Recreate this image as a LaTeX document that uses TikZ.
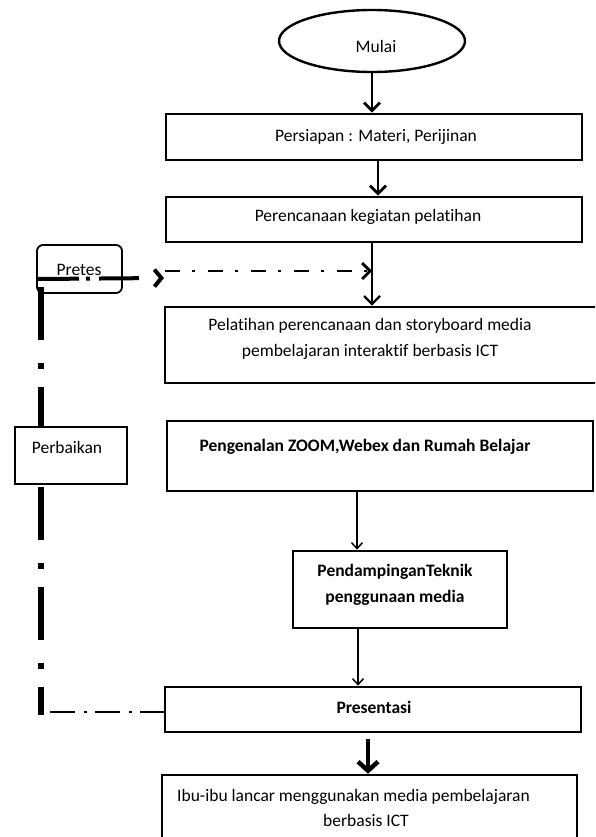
\documentclass[tikz,border=0pt]{standalone}
\usepackage{fontspec}
\setmainfont{Carlito}[RawFeature={-liga;-clig;-calt;-dlig}]
\usetikzlibrary{arrows.meta,shapes.geometric}
\tikzset{
  box/.style={draw, line width=2.6pt, fill=white, inner sep=0pt},
  txt/.style={font=\fontsize{17.5}{21}\selectfont, align=center, inner sep=0pt},
  btxt/.style={font=\fontsize{17.5}{21}\selectfont\bfseries, align=center, inner sep=0pt},
  barb/.style={-{Straight Barb[length=8pt,width=16pt]}},
}
\begin{document}
\begin{tikzpicture}[x=1pt,y=-1pt]
\useasboundingbox (0,0) rectangle (595,837);
\clip (0,0) rectangle (595,837);
% feedback loop (drawn first, under boxes)
\draw[line width=2.6pt, dash pattern=on 25pt off 8pt on 3pt off 9pt] (165,712) -- (41,712);
\draw[line width=5.5pt, dash pattern=on 53pt off 18pt on 6pt off 23pt, dash phase=25pt] (41,715) -- (41,276);
\coordinate (chev) at (164,278);
\draw[line width=4pt, dash pattern=on 41pt off 7pt on 4pt off 9pt on 40pt off 40pt, -{Straight Barb[length=7pt,width=17pt]}] (38,279) -- (chev);
% nodes
\node[draw, ellipse, line width=2.4pt, minimum width=186pt, minimum height=62pt, inner sep=0pt] (mulai) at (372,41) {};
\node[txt] (tmulai) at (376,46) {Mulai};
\node[box, minimum width=416pt, minimum height=46pt] (persiapan) at (374,137) {};
\node[txt] (tpersiapan) at (376,137) {Persiapan : Materi, Perijinan};
\node[box, minimum width=416pt, minimum height=45pt] (perencanaan) at (374,219.5) {};
\node[txt] (tperencanaan) at (368,217) {Perencanaan kegiatan pelatihan};
\node[box, minimum width=435pt, minimum height=76pt] (pelatihan) at (382.5,345) {};
\node[txt] (tpel1) at (370,326) {Pelatihan perencanaan dan storyboard media};
\node[txt] (tpel2) at (370,352) {pembelajaran interaktif berbasis ICT};
\node[box, minimum width=426pt, minimum height=70pt] (pengenalan) at (380,456) {};
\node[btxt] (tpengenalan) at (365,447) {Pengenalan ZOOM,Webex dan Rumah Belajar};
\node[box, minimum width=214pt, minimum height=77pt] (pendampingan) at (400,589.5) {};
\node[btxt] (tpend1) at (395,572) {PendampinganTeknik};
\node[btxt] (tpend2) at (395,598) {penggunaan media};
\node[box, minimum width=416pt, minimum height=45pt] (presentasi) at (373,709.5) {};
\node[btxt] (tpresentasi) at (374,707) {Presentasi};
\node[box, minimum width=415pt, minimum height=80pt] (ibu) at (369.5,815) {};
\node[txt, anchor=west] (tibu1) at (177,797) {Ibu-ibu lancar menggunakan media pembelajaran};
\node[txt] (tibu2) at (366,820) {berbasis ICT};
\node[draw, fill=white, line width=1.3pt, minimum width=112pt, minimum height=57pt, inner sep=0pt] (perbaikan) at (71,455.5) {};
\node[txt] (tperbaikan) at (67,447) {Perbaikan};
\node[draw, rounded corners=6pt, line width=1.8pt, minimum width=85pt, minimum height=48pt, inner sep=0pt] (pretes) at (79.5,269) {};
\node[txt] (tpretes) at (79,270) {Pretes};
% main connectors
\draw[line width=2.8pt, barb] (mulai.south) -- (mulai.south |- persiapan.north);
\draw[line width=2.8pt, barb] ([xshift=4pt]persiapan.south) -- ([xshift=4pt]perencanaan.north);
\coordinate (join) at (372,271);
\draw[line width=2.4pt, barb] (perencanaan.south -| join) -- (pelatihan.north -| join);
\draw[line width=1.5pt, -{Straight Barb[length=6pt,width=11pt]}] ([xshift=-23pt]pengenalan.south) -- ([xshift=-23pt]pengenalan.south |- pendampingan.north);
\draw[line width=1.5pt, -{Straight Barb[length=6pt,width=11pt]}] ([xshift=-42pt]pendampingan.south) -- ([xshift=-42pt]pendampingan.south |- presentasi.north);
\draw[line width=4.5pt, -{Straight Barb[length=9pt,width=20pt]}] ([xshift=-5pt,yshift=-6pt]presentasi.south) -- ([xshift=-5pt]presentasi.south |- ibu.north);
% pretes dash-dot arrow
\draw[line width=2.8pt, dash pattern=on 15pt off 12pt on 3pt off 13pt, barb] (chev) ++(1,-7) coordinate (dstart) (dstart) -- (join);
\end{tikzpicture}
\end{document}
